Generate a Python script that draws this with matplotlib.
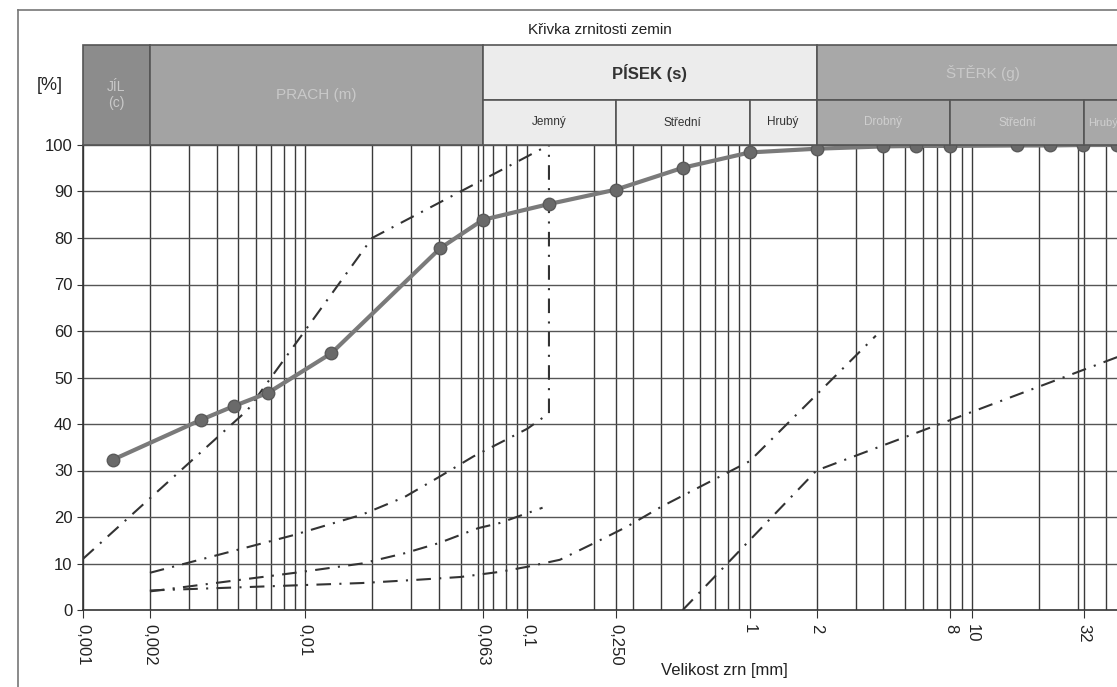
import numpy as np
import matplotlib
matplotlib.use("Agg")
import matplotlib.pyplot as plt
from matplotlib.patches import Rectangle
from matplotlib.transforms import blended_transform_factory

plt.rcParams['font.family'] = ['Liberation Sans', 'DejaVu Sans']

# grain size curve (hydrometer + sieves)
grain_d = [0.00136, 0.0034, 0.0048, 0.0068, 0.0131, 0.0405, 0.063, 0.125, 0.25,
           0.5, 1, 2, 4, 5.6, 8, 16, 22.4, 31.5, 45]
grain_p = [32.3, 40.9, 43.9, 46.7, 55.2, 77.8, 83.9, 87.3, 90.4,
           95.1, 98.4, 99.2, 99.7, 99.8, 99.8, 99.9, 99.9, 100, 100]

# boundary (dash-dot) curves
lim_a_d = [0.001, 0.0055, 0.02, 0.125]
lim_a_p = [11, 43, 80, 100]
lim_b_d = [0.002, 0.0087, 0.018, 0.028, 0.04, 0.057, 0.08, 0.1, 0.125, 0.125]
lim_b_p = [8, 16, 20.5, 24.3, 28.6, 33, 36.6, 39, 42.3, 100]
lim_c_d = [0.002, 0.009, 0.018, 0.028, 0.04, 0.06, 0.075, 0.117]
lim_c_p = [4, 8, 10, 12.2, 14.4, 17.6, 18.7, 22]
lim_d_d = [0.002, 0.018, 0.032, 0.05, 0.075, 0.1, 0.14, 0.2, 0.28, 0.4, 1.0, 3.7]
lim_d_p = [4.2, 5.8, 6.5, 7.1, 8.2, 9.3, 10.8, 14.4, 17.9, 22.2, 32, 59]
lim_e_d = [0.5, 2, 63]
lim_e_p = [0, 30, 57]

xtick_vals = [0.001, 0.002, 0.01, 0.063, 0.1, 0.25, 1, 2, 8, 10, 32]
xtick_text = ['0,001', '0,002', '0,01', '0,063', '0,1', '0,250', '1', '2', '8', '10', '32']

# header: (from, to, label)
main_bands = [(0.001, 0.002, 'JÍL\n(c)'), (0.002, 0.063, 'PRACH (m)'),
              (0.063, 2, 'PÍSEK (s)'), (2, 63, 'ŠTĚRK (g)')]
sand_sub = [(0.063, 0.25, 'Jemný'), (0.25, 1, 'Střední'), (1, 2, 'Hrubý')]
gravel_sub = [(2, 8, 'Drobný'), (8, 32, 'Střední'), (32, 63, 'Hrubý')]

W, H = 1117, 687
fig = plt.figure(figsize=(W / 100, H / 100), dpi=100)
ax = fig.add_axes([83 / W, 77 / H, (W - 83) / W, 465 / H])
ax.set_xscale('log')
ax.set_xlim(0.001, 45)
ax.set_ylim(0, 100)

# grid
grid_x = [m * 10.0 ** e for e in range(-3, 2) for m in range(1, 10)] + [0.063, 0.25, 32]
for gx in grid_x:
    ax.axvline(gx, color='#3a3a3a', lw=1.0, zorder=1)
for gy in range(10, 101, 10):
    ax.axhline(gy, color='#555555', lw=1.0, zorder=1)

dash = dict(color='#333333', lw=1.5, dashes=(7, 4, 1, 4), zorder=3)
ax.plot(lim_a_d, lim_a_p, **dash)
ax.plot(lim_b_d, lim_b_p, **dash)
ax.plot(lim_c_d, lim_c_p, **dash)
ax.plot(lim_d_d, lim_d_p, **dash)
ax.plot(lim_e_d, lim_e_p, **dash)

ax.plot(grain_d, grain_p, color='#7a7a7a', lw=3, marker='o', ms=9,
        mfc='#6a6a6a', mec='#5a5a5a', zorder=4)

ax.set_yticks(range(0, 101, 10))
ax.tick_params(axis='y', labelsize=12, length=4, color='#333333', labelcolor='#222222')
ax.set_xticks(xtick_vals)
ax.set_xticklabels(xtick_text, rotation=-90, fontsize=12, color='#222222')
ax.xaxis.set_minor_locator(matplotlib.ticker.NullLocator())
ax.tick_params(axis='x', length=6, color='#333333', pad=4)
for s in ['top', 'right']:
    ax.spines[s].set_visible(False)
for s in ['left', 'bottom']:
    ax.spines[s].set_color('#333333')
    ax.spines[s].set_linewidth(1.2)

ax.text(0.62, -0.115, 'Velikost zrn [mm]', transform=ax.transAxes, fontsize=12,
        ha='center', va='top', color='#222222')

# header boxes above the plot
tr = blended_transform_factory(ax.transData, ax.transAxes)
top = 100 / 465
mid = 45 / 465
band_colors = ['#8c8c8c', '#a3a3a3', '#ececec', '#a8a8a8']
for (x0, x1, lab), c in zip(main_bands, band_colors):
    if lab.startswith('PÍSEK') or lab.startswith('ŠTĚRK'):
        y0, h = 1 + mid, top - mid
    else:
        y0, h = 1, top
    ax.add_patch(Rectangle((x0, y0), x1 - x0, h, transform=tr, clip_on=False,
                           fc=c, ec='#555555', lw=1.2, zorder=5))
    xc = np.sqrt(x0 * x1)
    if lab.startswith('PÍSEK'):
        ax.text(xc, y0 + h / 2, lab, transform=tr, ha='center', va='center',
                fontsize=12, fontweight='bold', color='#333333', zorder=6)
    else:
        ax.text(xc, y0 + h / 2, lab, transform=tr, ha='center', va='center',
                fontsize=10 if lab.startswith('JÍL') else 11,
                color='#c9c9c9', zorder=6)

for subs, c, tc in [(sand_sub, '#ececec', '#333333'), (gravel_sub, '#a8a8a8', '#cfcfcf')]:
    for x0, x1, lab in subs:
        ax.add_patch(Rectangle((x0, 1), x1 - x0, mid, transform=tr, clip_on=False,
                               fc=c, ec='#555555', lw=1.2, zorder=5))
        if x1 > 45:
            ax.text(x0 * 1.04, 1 + mid / 2, lab, transform=tr, ha='left',
                    va='center', fontsize=8, color=tc, zorder=6)
        else:
            ax.text(np.sqrt(x0 * x1), 1 + mid / 2, lab, transform=tr, ha='center',
                    va='center', fontsize=8.5, color=tc, zorder=6)

ax.text(0.5, 1 + 115 / 465, 'Křivka zrnitosti zemin', transform=ax.transAxes,
        ha='center', va='center', fontsize=11, color='#222222')
fig.text(50 / W, 1 - 85 / H, '[%]', ha='center', va='center', fontsize=13, color='#222222')

# outer frame of the sheet
fig.add_artist(plt.Line2D([18 / W, 18 / W], [0, 1 - 10 / H], color='#777777', lw=1.2))
fig.add_artist(plt.Line2D([18 / W, 1], [1 - 10 / H, 1 - 10 / H], color='#777777', lw=1.2))

fig.savefig('out.png', dpi=100)
